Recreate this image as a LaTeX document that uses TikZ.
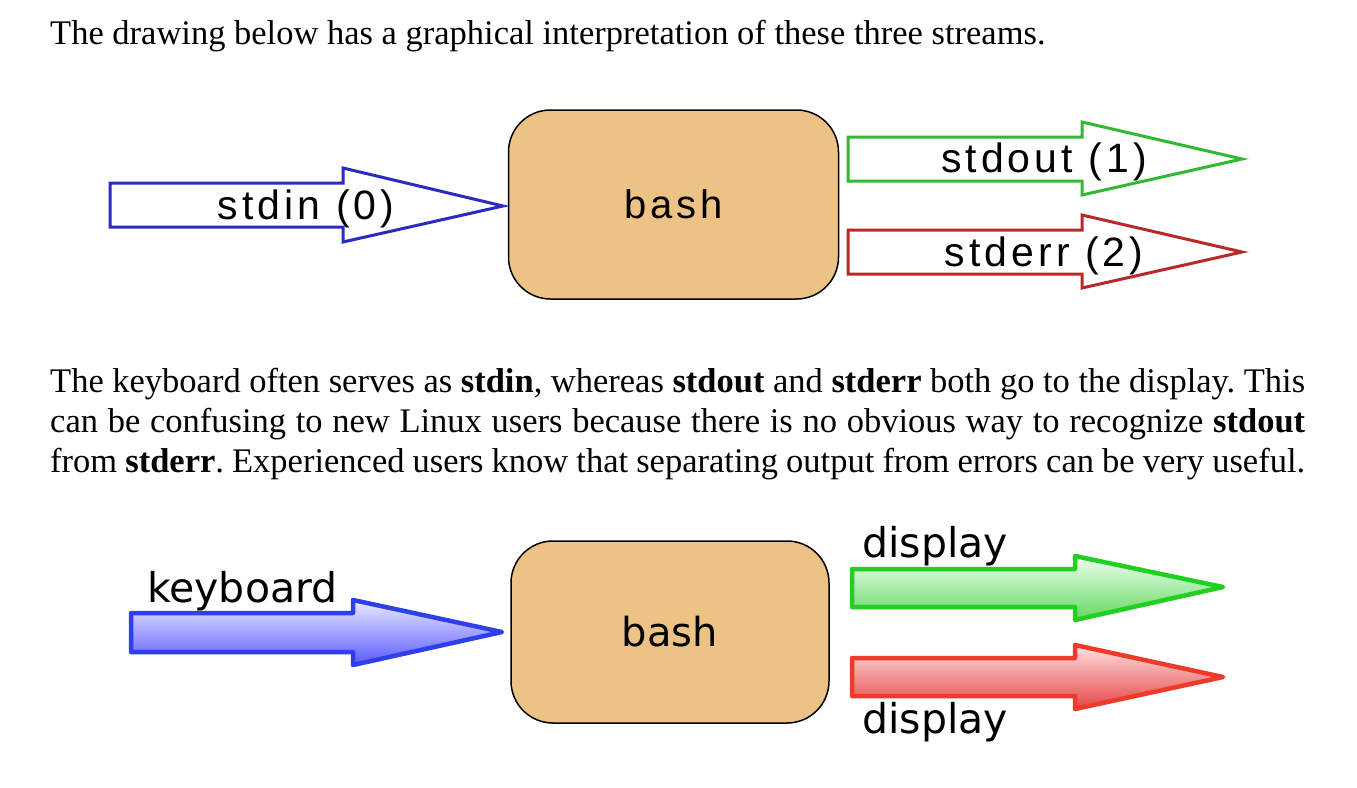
\documentclass[tikz,border=0pt]{standalone}
\usepackage{fontspec}
\setmainfont{Liberation Serif}
\newfontfamily\labfont[LetterSpace=10]{Liberation Sans}
\newfontfamily\djv{DejaVu Sans}
\definecolor{boxfill}{HTML}{ECC384}
\definecolor{tblue}{HTML}{2B2BBF}
\definecolor{tgreen}{HTML}{33B833}
\definecolor{tred}{HTML}{B82A2A}
\definecolor{bblue}{HTML}{3040E8}
\definecolor{bgreen}{HTML}{22D022}
\definecolor{bred}{HTML}{EE3A2A}
\tikzset{
  bodytext/.style={font=\frenchspacing\fontsize{34.5}{40}\selectfont, inner sep=0pt, anchor=base west},
  bashbox/.style={draw=black, line width=1.5pt, fill=boxfill, rounded corners=42pt, inner sep=0pt},
  toparrow/.style={line width=3pt, line join=miter, fill=white},
  botarrow/.style={line width=4.5pt, line join=round},
  toplabel/.style={font=\labfont\fontsize{41}{41}\selectfont, inner sep=0pt, anchor=base},
  botlabel/.style={font=\djv\fontsize{41}{41}\selectfont, inner sep=0pt, anchor=base west},
}
\begin{document}
\begin{tikzpicture}[x=1pt,y=-1pt]
\useasboundingbox (0,0) rectangle (1357,787);

% intro line
\node[bodytext] (intro) at (50,44) {The drawing below has a graphical interpretation of these three streams.};

% ---------- top diagram ----------
\node[bashbox, minimum width=330pt, minimum height=189pt] (bash1) at (673.5,204.5) {};
\node[font=\labfont\fontsize{40}{40}\selectfont, inner sep=0pt] (bashlab1) at (bash1.center) {bash};

\draw[toparrow, draw=tblue] (110,183) -- (343,183) -- (343,168) -- (503,206) -- (343,242) -- (343,227) -- (110,227) -- cycle;
\node[toplabel] (stdinlab) at (306,219) {stdin (0)};

\draw[toparrow, draw=tgreen] (848,137) -- (1082,137) -- (1082,122) -- (1242,159) -- (1082,195) -- (1082,181) -- (848,181) -- cycle;
\node[toplabel] (stdoutlab) at (1044,172) {stdout (1)};

\draw[toparrow, draw=tred] (848,230) -- (1082,230) -- (1082,215) -- (1242,252) -- (1082,288) -- (1082,274) -- (848,274) -- cycle;
\node[toplabel] (stderrlab) at (1044,266) {stderr (2)};

% ---------- paragraph ----------
\node[bodytext] (p1) at (50,392) {\makebox[1255pt][s]{The keyboard often serves as \textbf{stdin}, whereas \textbf{stdout} and \textbf{stderr} both go to the display. This}};
\node[bodytext] (p2) at (50,432) {\makebox[1255pt][s]{can be confusing to new Linux users because there is no obvious way to recognize \textbf{stdout}}};
\node[bodytext] (p3) at (50,472) {\makebox[1255pt][s]{from \textbf{stderr}. Experienced users know that separating output from errors can be very useful.}};

% ---------- bottom diagram ----------
\node[bashbox, minimum width=318pt, minimum height=182pt] (bash2) at (670,632) {};
\node[font=\djv\fontsize{40}{40}\selectfont, inner sep=0pt] (bashlab2) at (bash2.center) {bash};

\path[botarrow, draw=bblue, top color=blue!8!white, bottom color=blue!65!white]
  (131,613) -- (353,613) -- (353,600) -- (502,632) -- (353,665) -- (353,652) -- (131,652) -- cycle;
\node[botlabel] (kbd) at (147,602) {keyboard};

\path[botarrow, draw=bgreen, top color=green!6!white, bottom color=green!55!white!85!black]
  (852,569) -- (1075,569) -- (1075,556) -- (1223,587) -- (1075,620) -- (1075,607) -- (852,607) -- cycle;
\node[botlabel] (disp1) at (862,557) {display};

\path[botarrow, draw=bred, top color=red!12!white, bottom color=red!70!white!90!black]
  (852,658) -- (1075,658) -- (1075,645) -- (1223,677) -- (1075,709) -- (1075,696) -- (852,696) -- cycle;
\node[botlabel] (disp2) at (862,733) {display};

\end{tikzpicture}
\end{document}
